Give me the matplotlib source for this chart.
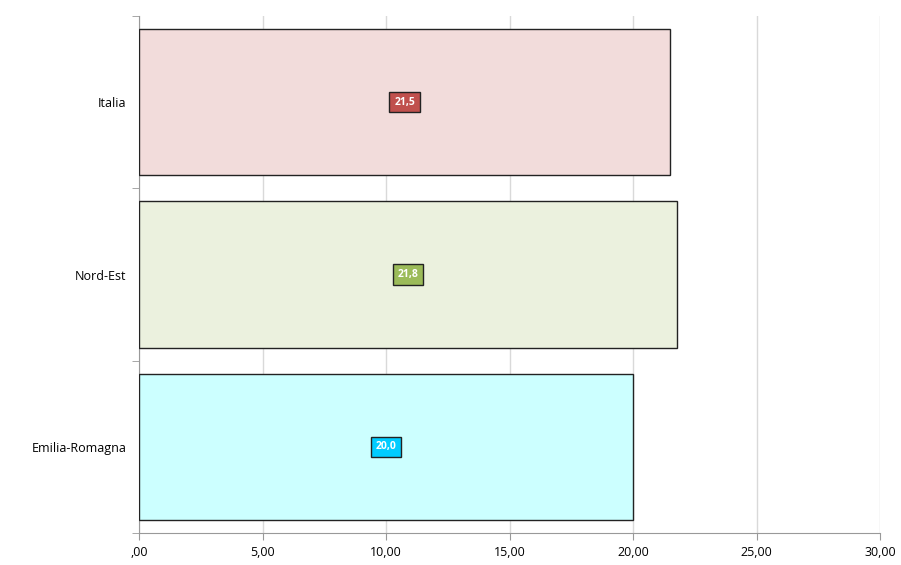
import matplotlib
matplotlib.use("Agg")
import matplotlib.pyplot as plt
from matplotlib.ticker import FixedLocator

categories = ["Italia", "Nord-Est", "Emilia-Romagna"]
values = [21.5, 21.8, 20.0]
fill_colors = ["#F2DCDB", "#EBF1DE", "#CCFFFF"]
box_colors = ["#C0504D", "#9BBB59", "#00CCFF"]
xticks = [0, 5, 10, 15, 20, 25, 30]
xtick_labels = [",00", "5,00", "10,00", "15,00", "20,00", "25,00", "30,00"]

plt.rcParams['font.family'] = ['Open Sans', 'DejaVu Sans']

fig = plt.figure(figsize=(9.01, 5.65), dpi=100)
ax = fig.add_axes([0.1543, 0.0566, 0.9767 - 0.1543, 0.9717 - 0.0566])

y = list(range(len(categories)))
ax.barh(y, values, height=0.85, color=fill_colors, edgecolor="#222222", linewidth=1.0, zorder=3)

for yi, v, bc in zip(y, values, box_colors):
    ax.text(v / 2, yi, f"{v:.1f}".replace(".", ","), ha="center", va="center",
            color="white", fontsize=7.5, fontweight="bold", zorder=4,
            bbox=dict(boxstyle="square,pad=0.45", facecolor=bc, edgecolor="#222222", linewidth=1.0))

ax.set_xlim(0, 30)
ax.set_ylim(2.5, -0.5)
ax.set_xticks(xticks)
ax.set_xticklabels(xtick_labels, fontsize=9)
ax.set_yticks(y)
ax.set_yticklabels(categories, fontsize=9)
ax.yaxis.set_minor_locator(FixedLocator([-0.5, 0.5, 1.5, 2.5]))
ax.tick_params(axis="y", which="major", length=0, pad=9)
ax.tick_params(axis="y", which="minor", length=5, color="#999999", direction="out")
ax.tick_params(axis="x", which="major", length=5, color="#999999", direction="out", pad=4)

ax.grid(axis="x", color="#D9D9D9", linewidth=1.0, zorder=0)
for s in ["top", "right"]:
    ax.spines[s].set_visible(False)
ax.spines["left"].set_color("#999999")
ax.spines["bottom"].set_color("#999999")

fig.savefig("out.png", dpi=100)
